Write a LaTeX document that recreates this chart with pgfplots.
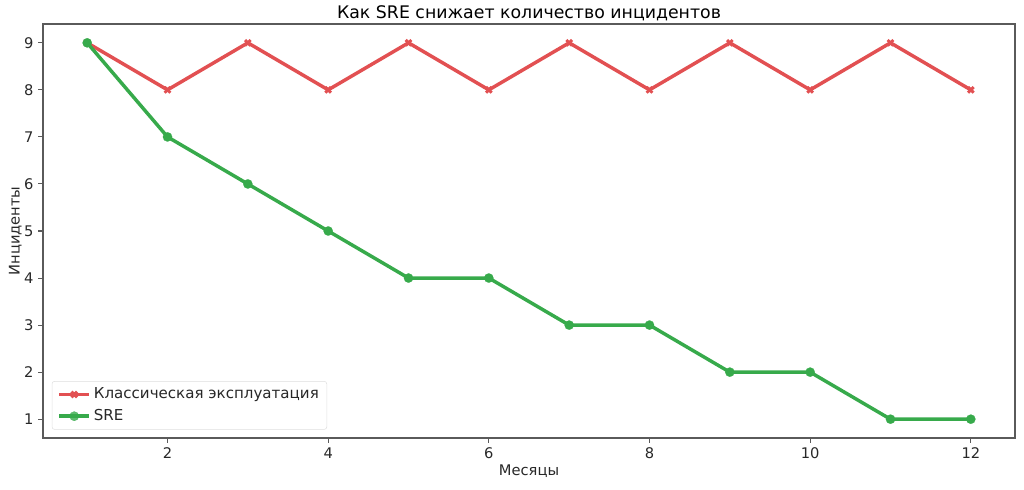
\documentclass[border=0pt]{standalone}
\usepackage{fontspec}
\setmainfont{DejaVu Sans}
\usepackage{pgfplots}
\pgfplotsset{compat=1.18}

\definecolor{cred}{RGB}{226,80,82}
\definecolor{cgreen}{RGB}{55,170,75}
\definecolor{spine}{RGB}{90,90,90}
\definecolor{txt}{RGB}{40,40,40}

\begin{document}
\begin{tikzpicture}
\path[use as bounding box] (0,0) rectangle (768pt,366.75pt);
\begin{axis}[
    at={(32.25pt,38.25pt)}, anchor=south west,
    scale only axis,
    width=729pt, height=310.5pt,
    xmin=0.45, xmax=12.55,
    ymin=0.6, ymax=9.4,
    xtick={2,4,...,12},
    ytick={1,...,9},
    xtick pos=bottom, ytick pos=left,
    tick align=outside,
    major tick length=3.6pt,
    tick style={spine, line width=0.8pt},
    axis line style={spine, line width=0.8pt},
    ticklabel style={font=\fontsize{11pt}{13pt}\selectfont, text=txt},
    /pgf/number format/assume math mode=true,
    title={Как SRE снижает количество инцидентов},
    title style={at={(0.5,1)}, anchor=base, yshift=-1.5pt,
        font=\fontsize{13pt}{15pt}\selectfont, text=black},
    xlabel={Месяцы},
    ylabel={Инциденты},
    label style={font=\fontsize{11pt}{13pt}\selectfont, text=txt},
    xlabel style={yshift=2pt},
    ylabel style={yshift=-5pt},
    legend style={at={(0.009,0.02)}, anchor=south west,
        draw=gray!25, rounded corners=2pt, fill=white, fill opacity=0.8, text opacity=1,
        font=\fontsize{11.3pt}{13pt}\selectfont, text=txt,
        row sep=2.5pt, inner xsep=4pt, inner ysep=3pt},
    legend cell align=left,
    legend image code/.code={
        \draw[mark repeat=2,mark phase=2] plot coordinates {(0cm,0cm) (0.4cm,0cm) (0.8cm,0cm)};
    },
]
\addplot[cred, line width=2.6pt, mark=x, mark size=3pt, mark options={solid, line width=2.2pt}]
    coordinates {(1,9) (2,8) (3,9) (4,8) (5,9) (6,8) (7,9) (8,8) (9,9) (10,8) (11,9) (12,8)};
\addlegendentry{Классическая эксплуатация}
\addplot[cgreen, line width=2.6pt, mark=*, mark size=3.5pt, mark options={solid, fill=cgreen, draw=cgreen, line width=0.1pt}]
    coordinates {(1,9) (2,7) (3,6) (4,5) (5,4) (6,4) (7,3) (8,3) (9,2) (10,2) (11,1) (12,1)};
\addlegendentry{SRE}
\end{axis}
\end{tikzpicture}
\end{document}
